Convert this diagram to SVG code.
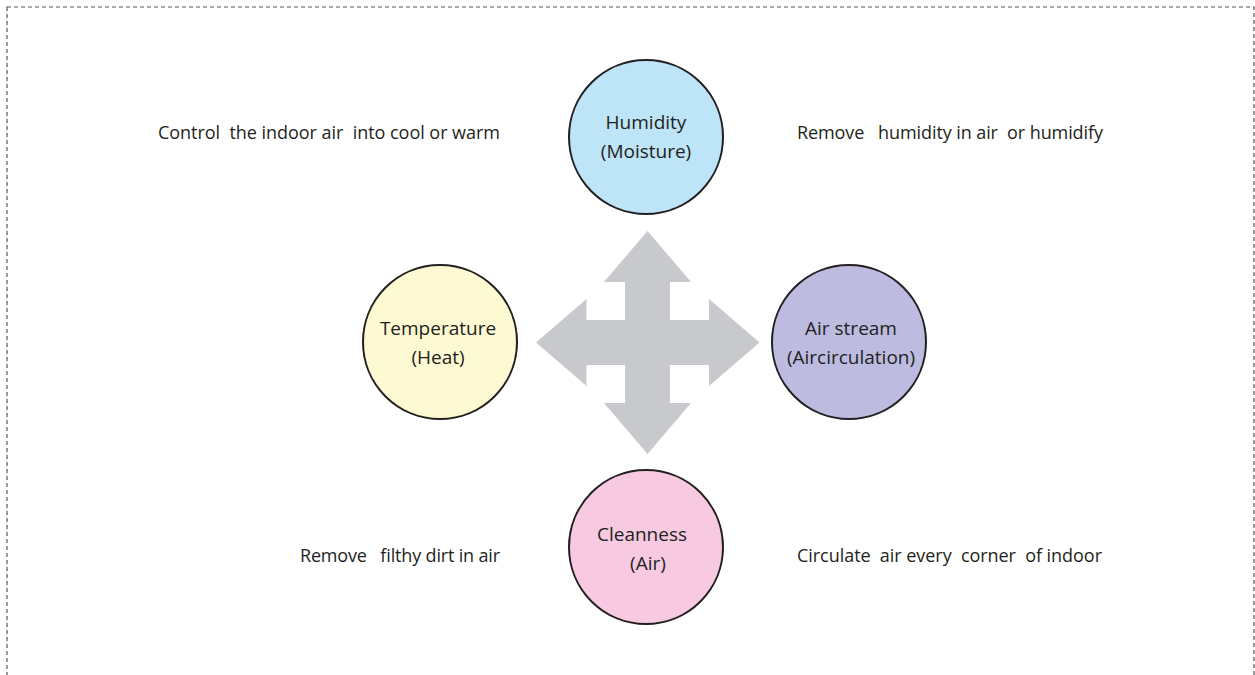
<svg xmlns="http://www.w3.org/2000/svg" width="1255" height="675" viewBox="0 0 1255 675">
<style>
.frame{fill:none;stroke:#555;stroke-width:1.2;stroke-dasharray:4 3}
.node{stroke:#231f20;stroke-width:2}
.lbl{font-family:"Open Sans","Liberation Sans",sans-serif;font-size:19px;fill:#231f20;text-anchor:middle}
.desc{font-family:"Open Sans","Liberation Sans",sans-serif;font-size:18px;fill:#231f20;white-space:pre}
.arrow{fill:#c8c9cc}
</style>
<rect class="frame" x="7" y="7" width="1247" height="680"/>
<g id="connectors">
<polygon class="arrow" points="647.5,231 691,282 670,282 670,320 709,320 709,299 759.5,342.5 709,386 709,365 670,365 670,403 691,403 647.5,454 604,403 625,403 625,365 586.5,365 586.5,386 536,342.5 586.5,299 586.5,320 625,320 625,282 604,282"/>
</g>
<g id="humidity">
<circle class="node" cx="646" cy="137" r="77" fill="#bde4f7"/>
<text class="lbl" x="646" y="129">Humidity</text>
<text class="lbl" x="646" y="158">(Moisture)</text>
</g>
<g id="temperature">
<circle class="node" cx="440" cy="342" r="77" fill="#fdf9d2"/>
<text class="lbl" x="438" y="335">Temperature</text>
<text class="lbl" x="438" y="364">(Heat)</text>
</g>
<g id="airstream">
<circle class="node" cx="849" cy="342" r="77" fill="#bdbbe0"/>
<text class="lbl" x="851" y="335">Air stream</text>
<text class="lbl" x="851" y="364">(Aircirculation)</text>
</g>
<g id="cleanness">
<circle class="node" cx="646" cy="547" r="77" fill="#f7cae1"/>
<text class="lbl" x="642" y="541">Cleanness</text>
<text class="lbl" x="648" y="570">(Air)</text>
</g>
<g id="descriptions">
<text class="desc" x="158" y="139" textLength="342" lengthAdjust="spacing">Control  the indoor air  into cool or warm</text>
<text class="desc" x="797" y="139" textLength="306" lengthAdjust="spacing">Remove   humidity in air  or humidify</text>
<text class="desc" x="300" y="562" textLength="200" lengthAdjust="spacing">Remove   filthy dirt in air</text>
<text class="desc" x="797" y="562" textLength="305" lengthAdjust="spacing">Circulate  air every  corner  of indoor</text>
</g>
</svg>
